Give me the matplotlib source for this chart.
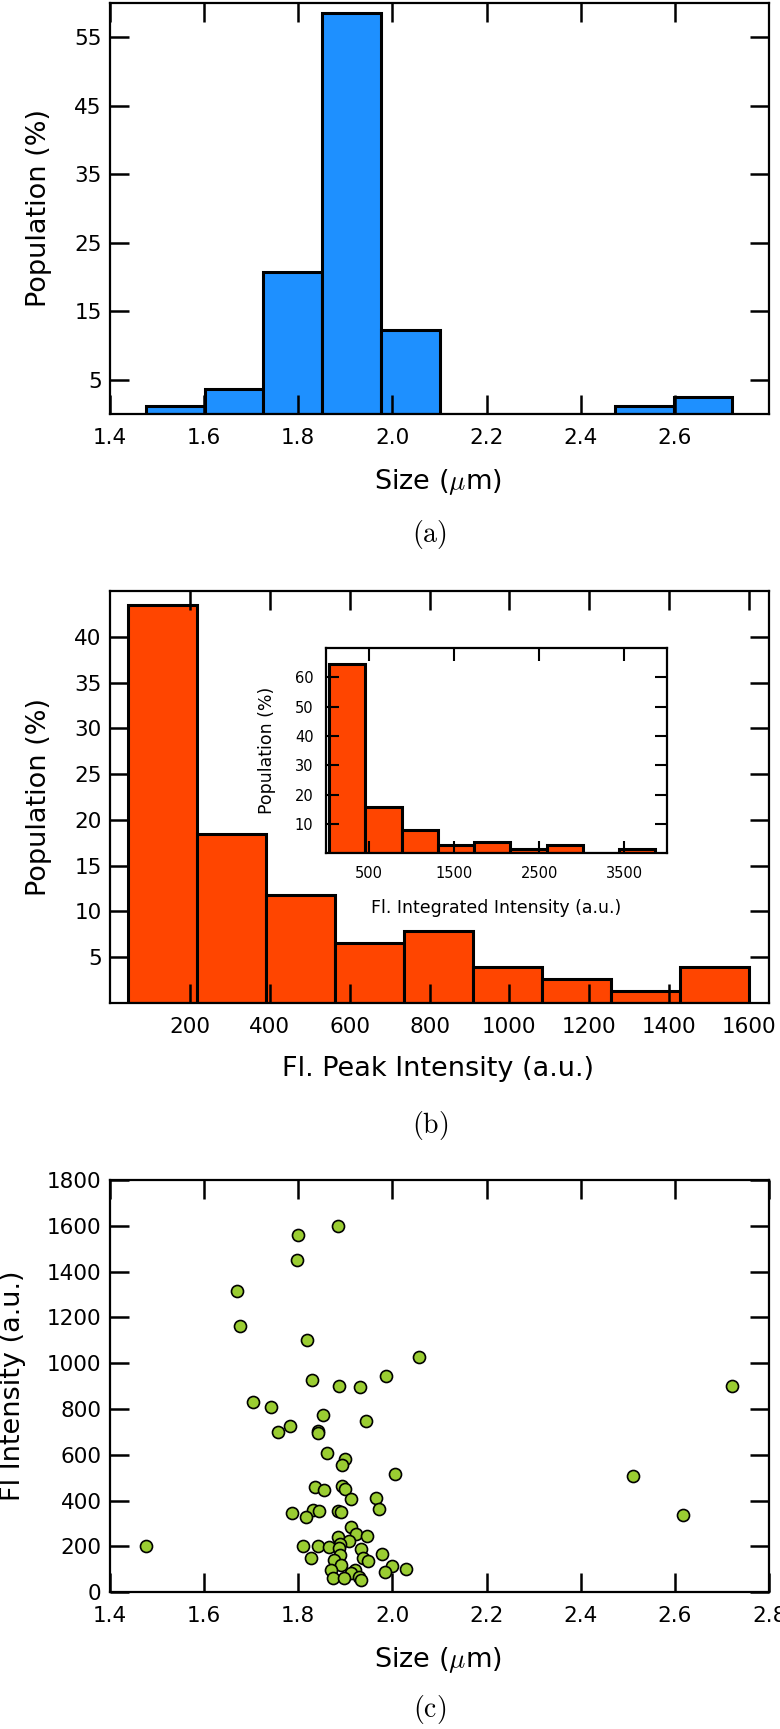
import numpy as np
import matplotlib.pyplot as plt

plt.rcParams['font.family'] = 'DejaVu Sans'
plt.rcParams['mathtext.fontset'] = 'cm'

# (a) size histogram, percent per bin
size_edges = [1.477, 1.602, 1.726, 1.851, 1.975, 2.100, 2.224, 2.349, 2.473, 2.598, 2.722]
size_pct = [1.22, 3.66, 20.73, 58.54, 12.20, 0, 0, 0, 1.22, 2.44]

# (b) peak intensity histogram
peak_edges = [45, 218, 390, 563, 736, 909, 1081, 1254, 1427, 1600]
peak_pct = [43.42, 18.42, 11.84, 6.58, 7.89, 3.95, 2.63, 1.32, 3.95]

# (b) inset: integrated intensity histogram
integ_edges = [35, 461, 886, 1312, 1738, 2163, 2589, 3014, 3440, 3866]
integ_pct = [64.47, 15.79, 7.89, 2.63, 3.95, 1.32, 2.63, 0, 1.32]

# (c) scatter: size vs fl intensity
size_um = [1.477, 1.885, 1.800, 1.798, 1.670, 1.676, 1.818, 2.057, 1.987, 1.829,
           1.886, 1.932, 2.722, 1.703, 1.742, 1.852, 1.943, 1.782, 1.757, 1.841,
           1.841, 1.862, 1.900, 1.893, 2.006, 2.511, 1.836, 1.854, 1.892, 1.900,
           1.965, 1.911, 1.972, 1.786, 1.832, 1.844, 1.817, 1.884, 1.891, 2.617,
           1.913, 1.922, 1.946, 1.885, 1.908, 1.888, 1.810, 1.841, 1.866, 1.887,
           1.933, 1.977, 1.826, 1.889, 1.938, 1.948, 1.875, 1.890, 2.000, 2.029,
           1.984, 1.870, 1.921, 1.913, 1.928, 1.874, 1.897, 1.933]
fl_int = [200, 1600, 1558, 1450, 1317, 1162, 1103, 1028, 943, 925,
          900, 897, 902, 832, 808, 775, 747, 725, 700, 703,
          695, 607, 580, 553, 517, 505, 460, 445, 462, 452,
          413, 408, 365, 345, 360, 352, 330, 355, 350, 337,
          285, 255, 245, 242, 225, 212, 200, 200, 196, 193,
          190, 168, 148, 160, 150, 135, 140, 120, 115, 99,
          89, 96, 96, 83, 67, 60, 60, 52]

size_label = r'Size ($\mu$m)'

fig = plt.figure(figsize=(7.8, 17.29), dpi=100)
ax_a = fig.add_axes([0.141, 0.7606, 0.845, 0.2377])
ax_b = fig.add_axes([0.141, 0.4199, 0.845, 0.2383])
ax_c = fig.add_axes([0.141, 0.0792, 0.845, 0.2383])
ax_in = fig.add_axes([0.418, 0.5066, 0.437, 0.1186])


def style(ax, big=True):
    for s in ax.spines.values():
        s.set_linewidth(1.6)
    if big:
        ax.tick_params(direction='in', length=14, width=1.8, top=True, right=True,
                       labelsize=15.5)
        ax.tick_params(axis='x', pad=10)
        ax.tick_params(axis='y', pad=6)
    else:
        ax.tick_params(direction='in', length=9, width=1.5, top=True, right=True,
                       labelsize=10.5, pad=9)


def hist_bars(ax, edges, pct, color):
    ax.bar(edges[:-1], pct, width=np.diff(edges), align='edge', color=color,
           edgecolor='black', linewidth=2.2)


# (a)
hist_bars(ax_a, size_edges, size_pct, '#1E90FF')
ax_a.set_xlim(1.4, 2.8)
ax_a.set_ylim(0, 60)
ax_a.set_xticks([1.4, 1.6, 1.8, 2.0, 2.2, 2.4, 2.6])
ax_a.set_yticks([5, 15, 25, 35, 45, 55])
style(ax_a)
ax_a.set_xlabel(size_label, fontsize=19.5)
ax_a.set_ylabel('Population (%)', fontsize=19.5)
ax_a.xaxis.set_label_coords(0.497, -0.128)
ax_a.yaxis.set_label_coords(-0.088, 0.5)

# (b)
hist_bars(ax_b, peak_edges, peak_pct, '#FF4500')
ax_b.set_xlim(0, 1650)
ax_b.set_ylim(0, 45)
ax_b.set_xticks([200, 400, 600, 800, 1000, 1200, 1400, 1600])
ax_b.set_yticks([5, 10, 15, 20, 25, 30, 35, 40])
style(ax_b)
ax_b.set_xlabel('Fl. Peak Intensity (a.u.)', fontsize=19.5)
ax_b.set_ylabel('Population (%)', fontsize=19.5)
ax_b.xaxis.set_label_coords(0.497, -0.128)
ax_b.yaxis.set_label_coords(-0.088, 0.5)

# inset
hist_bars(ax_in, integ_edges, integ_pct, '#FF4500')
ax_in.set_xlim(0, 4000)
ax_in.set_ylim(0, 70)
ax_in.set_xticks([500, 1500, 2500, 3500])
ax_in.set_yticks([10, 20, 30, 40, 50, 60])
style(ax_in, big=False)
ax_in.set_xlabel('Fl. Integrated Intensity (a.u.)', fontsize=12.5)
ax_in.set_ylabel('Population (%)', fontsize=12.5)
ax_in.xaxis.set_label_coords(0.5, -0.222)
ax_in.yaxis.set_label_coords(-0.147, 0.5)

# (c)
ax_c.scatter(size_um, fl_int, s=75, c='#9ACD32', edgecolors='black',
             linewidths=1.2, zorder=3)
ax_c.set_xlim(1.4, 2.8)
ax_c.set_ylim(0, 1800)
ax_c.set_xticks([1.4, 1.6, 1.8, 2.0, 2.2, 2.4, 2.6, 2.8])
ax_c.set_yticks(range(0, 1801, 200))
style(ax_c)
ax_c.set_xlabel(size_label, fontsize=19.5)
ax_c.set_ylabel('Fl Intensity (a.u.)', fontsize=19.5)
ax_c.xaxis.set_label_coords(0.497, -0.128)
ax_c.yaxis.set_label_coords(-0.128, 0.5)

for lbl, y in [('(a)', 0.6906), ('(b)', 0.3493), ('(c)', 0.011)]:
    fig.text(0.551, y, r'$\mathrm{' + lbl + '}$', fontsize=20, ha='center', va='center')

fig.savefig('out.png', dpi=100)
